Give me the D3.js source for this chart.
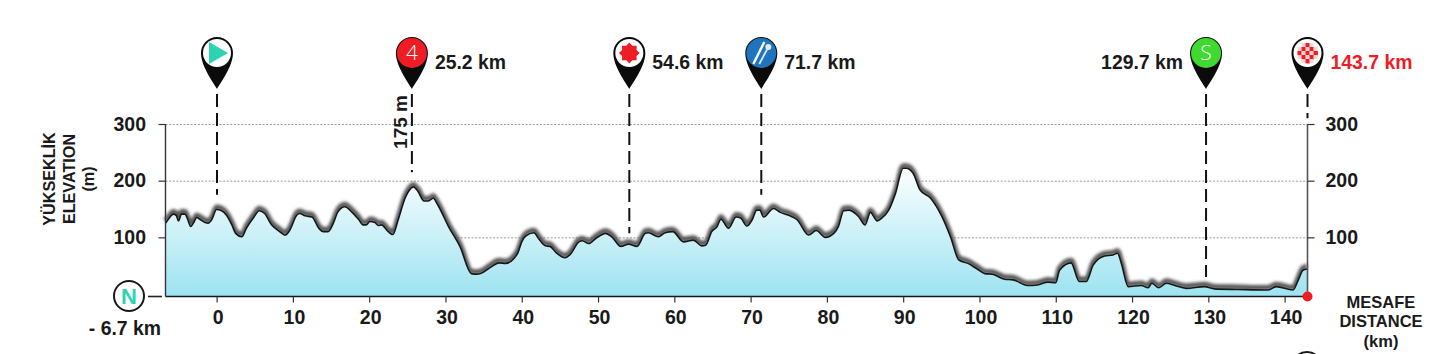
<!DOCTYPE html>
<html>
<head>
<meta charset="utf-8">
<script src="https://cdn.jsdelivr.net/npm/d3@7"></script>
<style>
html,body{margin:0;padding:0;background:#fff;}
svg{display:block;}
text{font-family:"Liberation Sans",Arial,sans-serif;font-weight:700;fill:#1a1a1a;}
</style>
</head>
<body>
<div id="chart"></div>
<script>
const profileKm = [-6.68,-6.1,-5.7,-5.3,-5.0,-4.6,-4.15,-3.85,-3.4,-3.05,-2.6,-2.2,-1.5,-1.1,-0.65,0,0.65,1.3,2.0,2.5,3.3,3.9,4.8,5.6,6.3,7.2,8.1,9.0,9.6,10.5,10.9,11.6,12.5,13.4,14,14.6,15.3,15.9,16.8,17.7,18.6,19.2,19.6,20.1,20.75,21.2,21.6,22.5,23.1,23.8,24.7,25.8,26.4,27.2,27.7,28.4,29.0,30.4,31.9,33.4,34.1,34.6,35.9,37,37.9,39,39.5,40,40.5,41.6,42.2,43.1,43.7,44.5,45.7,46.3,47.5,47.9,48.8,49.7,51,51.8,53,54,55.1,56.2,56.6,57.9,58.8,59.8,61.2,62.5,63.6,64.1,64.9,65.6,66.1,67.1,68.1,68.7,69.5,70.2,70.8,71.2,71.7,73,73.9,75,76.1,77.6,78.6,79.8,80.9,81.5,82.2,82.9,84.2,85.0,85.7,86.6,87.2,88.1,89,90,90.4,91.3,92.2,93.6,95.1,96.2,97.3,98.5,99.6,100.7,101.7,103.3,104.4,106.3,107.6,108.96,110,110.5,112,113.1,114,114.9,116.4,117.5,118.1,118.6,119.5,121.2,122.1,122.6,123.5,124.5,125.6,127.1,129.5,130.8,133.9,137.8,138.9,141.1,141.8,142.4,142.95];
const profileElev = [125,136,141,139,129,141,141,134,119,125,135,132,126,125,131,149,147,139,122,107,101,116,134,147,142,122,112,104,113,139,142,138,136,116,110,110,125,145,154,145,132,122,122,128,126,121,122,110,105,131,169,189,181,164,164,169,157,119,84,36,35,36,47,55,54,63,73,92,102,108,98,85,84,73,64,69,92,94,89,98,107,101,84,88,84,107,108,101,108,110,92,95,85,86,110,119,132,116,136,134,120,131,148,148,136,151,144,139,131,104,112,100,107,119,147,148,136,122,144,129,134,148,178,222,222,213,184,169,136,101,60,54,45,36,35,26,25,15,16,21,20,42,55,22,22,51,67,69,72,54,13,15,11,19,11,19,15,10,13,9,8,7,13,7,25,42,44];
const xTicks = [0,10,20,30,40,50,60,70,80,90,100,110,120,130,140];
const yTicks = [100,200,300];
const markerKm = [0.05,25.6,54.1,71.4,129.7,143];
const markerEndElev = [175,215,107,175,30,310];
const markerLabels = ["","25.2 km","54.6 km","71.7 km","129.7 km","143.7 km"];
const markerKinds = ["start","climb","star","food","sprint","finish"];
const startLabel = "- 6.7 km";
const climbLabel = "175 m";
const yTitle = ["YÜKSEKLİK","ELEVATION","(m)"];
const xTitle = ["MESAFE","DISTANCE","(km)"];

const W = 1438, H = 354;
const svg = d3.select("#chart").append("svg").attr("width",W).attr("height",H).attr("viewBox",`0 0 ${W} ${H}`);
const x = d3.scaleLinear().domain([-6.7,143]).range([165.5,1307.5]);
const y = d3.scaleLinear().domain([0,300]).range([294,124]);
const baseY = 296.5;
const pts = profileKm.map((k,i)=>({k,e:profileElev[i]}));

const defs = svg.append("defs");
const grad = defs.append("linearGradient").attr("id","fillGrad").attr("gradientUnits","userSpaceOnUse")
  .attr("x1",0).attr("x2",0).attr("y1",165).attr("y2",baseY);
grad.append("stop").attr("offset",0).attr("stop-color","#ffffff");
grad.append("stop").attr("offset",1).attr("stop-color","#9de3f1");
const blur = defs.append("filter").attr("id","soft").attr("x","-5%").attr("y","-40%").attr("width","110%").attr("height","180%");
blur.append("feGaussianBlur").attr("stdDeviation",1.6);

// gridlines
svg.append("g").selectAll("line").data(yTicks).join("line")
  .attr("x1",x.range()[0]).attr("x2",x.range()[1]).attr("y1",d=>y(d)+.5).attr("y2",d=>y(d)+.5)
  .attr("stroke","#999").attr("stroke-width",1).attr("stroke-dasharray","2 1.6");

// elevation
const line = d3.line().x(d=>x(d.k)).y(d=>y(d.e)).curve(d3.curveMonotoneX);
const area = d3.area().x(d=>x(d.k)).y0(baseY).y1(d=>y(d.e)).curve(d3.curveMonotoneX);
svg.append("path").datum(pts).attr("d",line).attr("fill","none").attr("stroke","#555")
  .attr("stroke-width",5).attr("transform","translate(0,-2.5)").attr("filter","url(#soft)");
svg.append("path").datum(pts).attr("d",area).attr("fill","url(#fillGrad)");
svg.append("path").datum(pts).attr("d",line).attr("fill","none").attr("stroke","#161616").attr("stroke-width",1.6).attr("stroke-linejoin","round");

// x axis
const gx = svg.append("g").attr("transform",`translate(0,${baseY})`)
  .call(d3.axisBottom(x).tickValues(xTicks).tickSize(6).tickPadding(8).tickFormat(d3.format("d")));
gx.select(".domain").attr("d",`M${x.range()[0]},0H${x.range()[1]}`).attr("stroke","#161616").attr("stroke-width",1.6);
gx.selectAll(".tick line").attr("stroke","#333").attr("stroke-width",1.2);
gx.selectAll(".tick text").attr("font-size",19.5).attr("font-family","Liberation Sans").attr("font-weight",700).attr("fill","#1a1a1a").attr("dx",1);

// y axes
const gl = svg.append("g").attr("transform",`translate(${x.range()[0]},0)`)
  .call(d3.axisLeft(y).tickValues(yTicks).tickSize(7).tickPadding(12.5).tickFormat(d3.format("d")));
gl.select(".domain").attr("d",`M0,${y(300)}V${baseY}`).attr("stroke","#333").attr("stroke-width",1.4);
gl.selectAll(".tick line").attr("stroke","#333").attr("stroke-width",1.2);
gl.selectAll(".tick text").attr("font-size",19.5).attr("font-family","Liberation Sans").attr("font-weight",700).attr("fill","#1a1a1a");
const gr = svg.append("g").attr("transform",`translate(${x.range()[1]},0)`)
  .call(d3.axisRight(y).tickValues(yTicks).tickSize(7).tickPadding(11).tickFormat(d3.format("d")));
gr.select(".domain").attr("d",`M0,${y(300)}V${baseY}`).attr("stroke","#555").attr("stroke-width",1.6);
gr.selectAll(".tick line").attr("stroke","#333").attr("stroke-width",1.2);
gr.selectAll(".tick text").attr("font-size",19.5).attr("font-family","Liberation Sans").attr("font-weight",700).attr("fill","#1a1a1a");

// markers
const pinPath = "M0,36C-4,29 -16,13 -16,0A16,16 0 1 1 16,0C16,13 4,29 0,36Z";
const markers = markerKm.map((k,i)=>({k,end:markerEndElev[i],label:markerLabels[i],kind:markerKinds[i],i}));
svg.append("g").selectAll("line").data(markers).join("line")
  .attr("x1",d=>x(d.k)).attr("x2",d=>x(d.k)).attr("y1",94).attr("y2",d=>y(d.end))
  .attr("stroke","#111").attr("stroke-width",2).attr("stroke-dasharray","13 6");
const pin = svg.append("g").selectAll("g").data(markers).join("g")
  .attr("transform",d=>`translate(${x(d.k)},53)`);
pin.append("path").attr("d",pinPath).attr("fill","#0b0b0b");
const faceColor = {start:"#fff",climb:"#ee1c25",star:"#fff",food:"#1f74bb",sprint:"#3fd92f",finish:"#fff"};
pin.append("circle").attr("r",d=>faceColor[d.kind]==="#fff"?14:15).attr("fill",d=>faceColor[d.kind]);
pin.filter(d=>d.kind==="start").append("path").attr("d","M-8,-11L11,0L-8,11Z").attr("fill","#2cd3b4");
pin.filter(d=>d.kind==="climb"||d.kind==="sprint").append("text")
  .attr("text-anchor","middle").attr("y",7).attr("font-size",21).style("font-family","'Open Sans'").style("font-weight",300).style("fill","#fff")
  .text(d=>d.kind==="climb"?"4":"S");
pin.filter(d=>d.kind==="star").append("path").attr("fill","#ee1c25")
  .attr("d",d3.lineRadial().angle((d,i)=>i*Math.PI/8).radius((d,i)=>i%2?7.8:10.4).curve(d3.curveLinearClosed)(d3.range(16)));
const food = pin.filter(d=>d.kind==="food");
food.append("line").attr("x1",-8).attr("y1",11).attr("x2",3).attr("y2",-11).attr("stroke","#fff").attr("stroke-width",2.4);
food.append("line").attr("x1",-2).attr("y1",11).attr("x2",6).attr("y2",-4).attr("stroke","#dfe9f3").attr("stroke-width",1.8);
food.append("circle").attr("cx",7).attr("cy",-6).attr("r",3).attr("fill","#dfe9f3");
const fin = pin.filter(d=>d.kind==="finish");
d3.range(5).forEach(r=>d3.range(5).forEach(c=>{
  const corner = (r===0||r===4)&&(c===0||c===4);
  if(!corner && (r+c)%2===0) fin.append("rect").attr("x",-10+c*4).attr("y",-10+r*4).attr("width",4.4).attr("height",4.4).attr("fill","#ee1c25");
  if(!corner && (r+c)%2===1) fin.append("rect").attr("x",-10+c*4).attr("y",-10+r*4).attr("width",4).attr("height",4).attr("fill","#fbd5d6");
}));
pin.append("text").attr("font-size",19.4).attr("y",15.5)
  .attr("x",d=>d.kind==="sprint"?-23:23)
  .attr("text-anchor",d=>d.kind==="sprint"?"end":"start")
  .style("fill",d=>d.kind==="finish"?"#ee1c25":"#1a1a1a")
  .text(d=>d.label);

// texts
svg.append("text").attr("transform",`translate(407,122) rotate(-90)`).attr("text-anchor","middle").attr("font-size",19).text(climbLabel);
svg.append("text").attr("x",161).attr("y",335).attr("text-anchor","end").attr("font-size",19.4).text(startLabel);
svg.append("g").selectAll("text").data(yTitle).join("text")
  .attr("transform",(d,i)=>`translate(${[55,74.5,94][i]},179) rotate(-90)`)
  .attr("text-anchor","middle").attr("font-size",16.2).text(d=>d);
svg.append("g").selectAll("text").data(xTitle).join("text")
  .attr("x",1381).attr("y",(d,i)=>[308,327,347][i]).attr("text-anchor","middle").attr("font-size",16.5).text(d=>d);

// start badge
svg.append("circle").attr("cx",129).attr("cy",296).attr("r",15).attr("fill","#fff").attr("stroke","#1a1a1a").attr("stroke-width",2);
svg.append("text").attr("x",129).attr("y",304).attr("text-anchor","middle").attr("font-size",22).style("fill","#2cd3b4").text("N");
svg.append("line").attr("x1",148).attr("x2",162).attr("y1",296.5).attr("y2",296.5).attr("stroke","#222").attr("stroke-width",1.6);
// finish dot
svg.append("circle").attr("cx",x(143)).attr("cy",baseY).attr("r",5).attr("fill","#ee1c25");
// cut-off badge at the lower edge
svg.append("circle").attr("cx",1307).attr("cy",367).attr("r",15).attr("fill","#fff").attr("stroke","#1a1a1a").attr("stroke-width",2);
</script>
</body>
</html>
